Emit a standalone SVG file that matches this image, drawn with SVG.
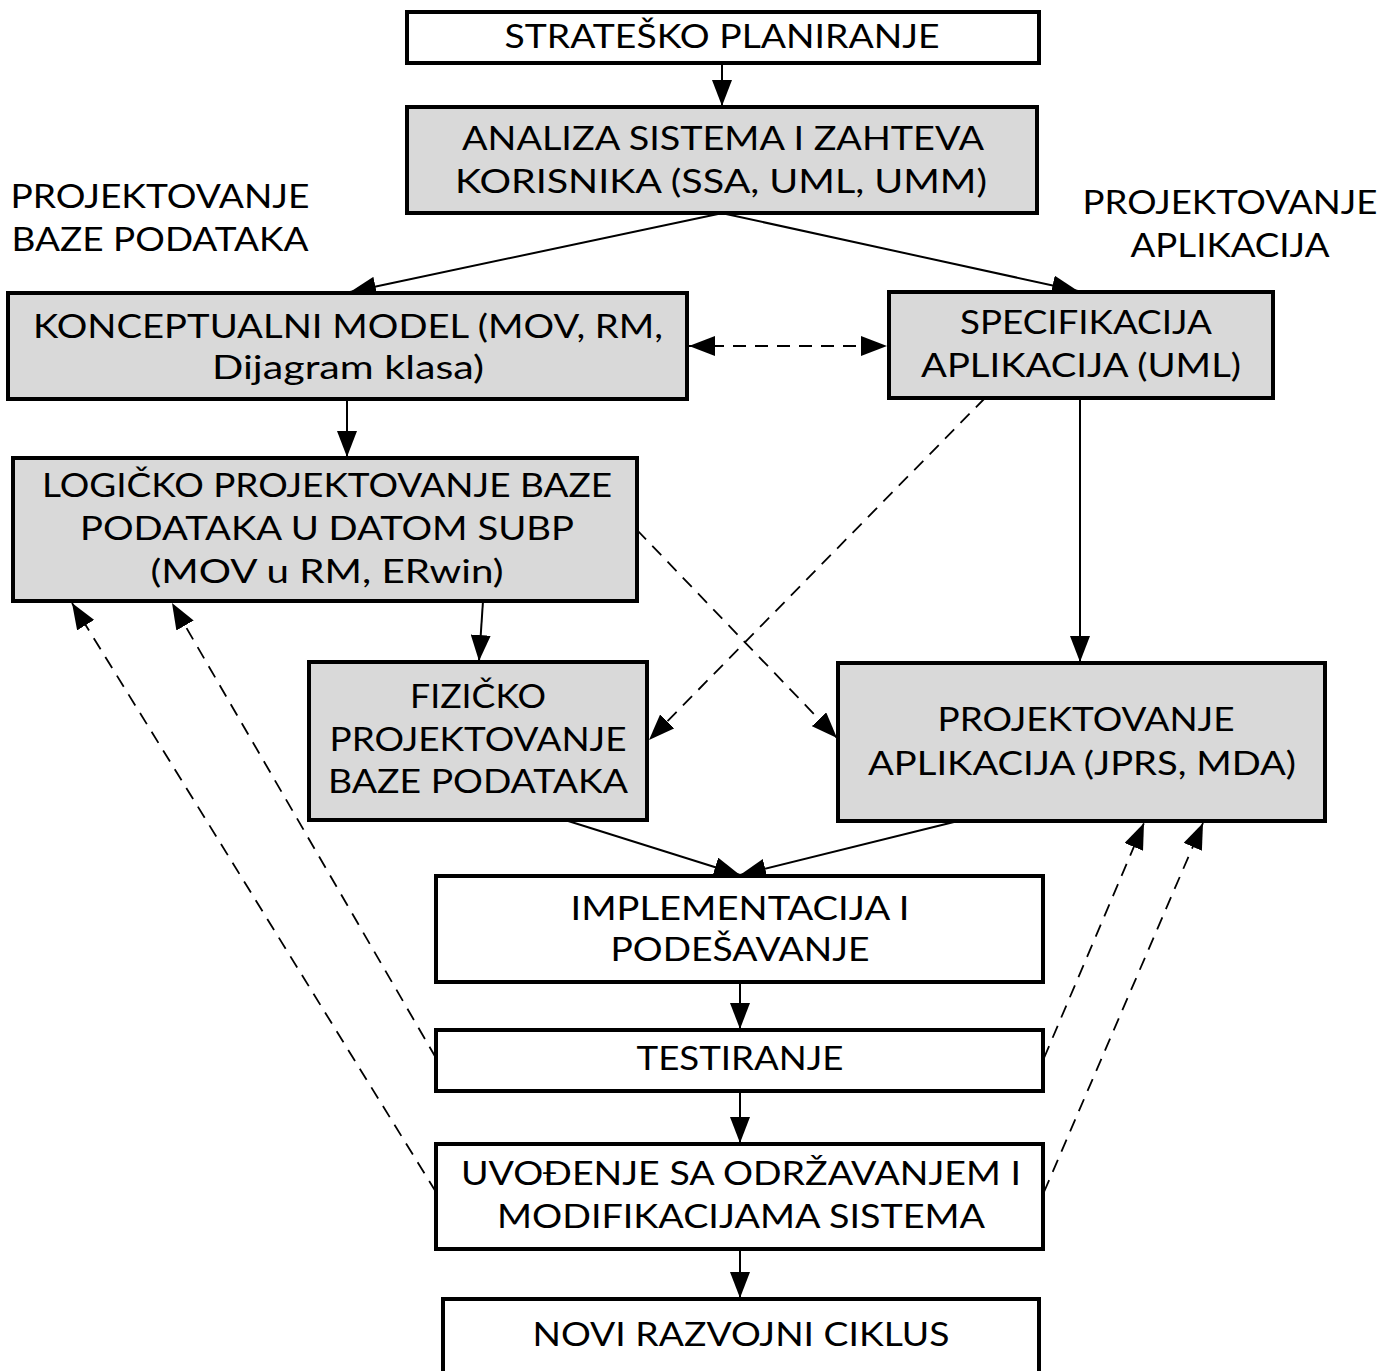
<svg xmlns="http://www.w3.org/2000/svg" width="1383" height="1371" viewBox="0 0 1383 1371">
<style>
.box{stroke:#000;stroke-width:4}
.w{fill:#fff}
.g{fill:#d9d9d9}
text{font-family:Lato,"Liberation Sans",sans-serif;font-size:32px;fill:#000;text-anchor:middle}
.c{stroke:#000;stroke-width:2;fill:none}
.d{stroke-dasharray:13 9;stroke-width:1.8}
</style>
<defs>
<marker id="ah" viewBox="0 0 26 20" refX="26" refY="10" markerWidth="26" markerHeight="20" markerUnits="userSpaceOnUse" orient="auto-start-reverse">
<path d="M0,0 L26,10 L0,20 z" fill="#000"/>
</marker>
</defs>
<rect width="1383" height="1371" fill="#fff"/>
<g id="connectors">
<line class="c" x1="722" y1="63" x2="722" y2="106" marker-end="url(#ah)"/>
<line class="c" x1="718" y1="214" x2="350" y2="292" marker-end="url(#ah)"/>
<line class="c" x1="726" y1="214" x2="1078" y2="291" marker-end="url(#ah)"/>
<line class="c d" x1="689" y1="346" x2="887" y2="346" marker-start="url(#ah)" marker-end="url(#ah)"/>
<line class="c" x1="347" y1="399" x2="347" y2="457" marker-end="url(#ah)"/>
<line class="c" x1="483" y1="601" x2="479" y2="661" marker-end="url(#ah)"/>
<line class="c" x1="1080" y1="398" x2="1080" y2="662" marker-end="url(#ah)"/>
<line class="c d" x1="985" y1="398" x2="649" y2="740" marker-end="url(#ah)"/>
<line class="c d" x1="637" y1="530" x2="837" y2="738" marker-end="url(#ah)"/>
<line class="c" x1="565" y1="820" x2="740" y2="875" marker-end="url(#ah)"/>
<line class="c" x1="958" y1="821" x2="740" y2="875" marker-end="url(#ah)"/>
<line class="c" x1="740" y1="982" x2="740" y2="1029" marker-end="url(#ah)"/>
<line class="c" x1="740" y1="1091" x2="740" y2="1143" marker-end="url(#ah)"/>
<line class="c" x1="740" y1="1249" x2="740" y2="1298" marker-end="url(#ah)"/>
<line class="c d" x1="436" y1="1058" x2="172" y2="603" marker-end="url(#ah)"/>
<line class="c d" x1="436" y1="1192" x2="72" y2="603" marker-end="url(#ah)"/>
<line class="c d" x1="1044" y1="1058" x2="1144" y2="823" marker-end="url(#ah)"/>
<line class="c d" x1="1044" y1="1192" x2="1203" y2="823" marker-end="url(#ah)"/>
</g>
<g id="lbl-baze">
<text x="160" y="208" textLength="299" lengthAdjust="spacingAndGlyphs">PROJEKTOVANJE</text>
<text x="160" y="251" textLength="297" lengthAdjust="spacingAndGlyphs">BAZE PODATAKA</text>
</g>
<g id="lbl-apl">
<text x="1230" y="214" textLength="295" lengthAdjust="spacingAndGlyphs">PROJEKTOVANJE</text>
<text x="1230" y="257" textLength="199" lengthAdjust="spacingAndGlyphs">APLIKACIJA</text>
</g>
<g id="n1">
<rect class="box w" x="407" y="12" width="632" height="51"/>
<text x="722" y="48" textLength="435" lengthAdjust="spacingAndGlyphs">STRATEŠKO PLANIRANJE</text>
</g>
<g id="n2">
<rect class="box g" x="407" y="107" width="630" height="106"/>
<text x="723" y="150" textLength="522" lengthAdjust="spacingAndGlyphs">ANALIZA SISTEMA I ZAHTEVA</text>
<text x="721" y="193" textLength="532" lengthAdjust="spacingAndGlyphs">KORISNIKA (SSA, UML, UMM)</text>
</g>
<g id="n3">
<rect class="box g" x="8" y="293" width="679" height="106"/>
<text x="348" y="338" textLength="630" lengthAdjust="spacingAndGlyphs">KONCEPTUALNI MODEL (MOV, RM,</text>
<text x="348" y="379" textLength="272" lengthAdjust="spacingAndGlyphs">Dijagram klasa)</text>
</g>
<g id="n4">
<rect class="box g" x="889" y="292" width="384" height="106"/>
<text x="1086" y="334" textLength="252" lengthAdjust="spacingAndGlyphs">SPECIFIKACIJA</text>
<text x="1081" y="377" textLength="320" lengthAdjust="spacingAndGlyphs">APLIKACIJA (UML)</text>
</g>
<g id="n5">
<rect class="box g" x="13" y="458" width="624" height="143"/>
<text x="327" y="497" textLength="570" lengthAdjust="spacingAndGlyphs">LOGIČKO PROJEKTOVANJE BAZE</text>
<text x="327" y="540" textLength="494" lengthAdjust="spacingAndGlyphs">PODATAKA U DATOM SUBP</text>
<text x="327" y="583" textLength="353" lengthAdjust="spacingAndGlyphs">(MOV u RM, ERwin)</text>
</g>
<g id="n6">
<rect class="box g" x="309" y="662" width="338" height="158"/>
<text x="478" y="708" textLength="136" lengthAdjust="spacingAndGlyphs">FIZIČKO</text>
<text x="478" y="751" textLength="297" lengthAdjust="spacingAndGlyphs">PROJEKTOVANJE</text>
<text x="478" y="793" textLength="300" lengthAdjust="spacingAndGlyphs">BAZE PODATAKA</text>
</g>
<g id="n7">
<rect class="box g" x="838" y="663" width="487" height="158"/>
<text x="1086" y="731" textLength="297" lengthAdjust="spacingAndGlyphs">PROJEKTOVANJE</text>
<text x="1082" y="775" textLength="428" lengthAdjust="spacingAndGlyphs">APLIKACIJA (JPRS, MDA)</text>
</g>
<g id="n8">
<rect class="box w" x="436" y="876" width="607" height="106"/>
<text x="740" y="920" textLength="339" lengthAdjust="spacingAndGlyphs">IMPLEMENTACIJA I</text>
<text x="740" y="961" textLength="259" lengthAdjust="spacingAndGlyphs">PODEŠAVANJE</text>
</g>
<g id="n9">
<rect class="box w" x="436" y="1030" width="607" height="61"/>
<text x="740" y="1070" textLength="207" lengthAdjust="spacingAndGlyphs">TESTIRANJE</text>
</g>
<g id="n10">
<rect class="box w" x="436" y="1144" width="607" height="105"/>
<text x="741" y="1185" textLength="560" lengthAdjust="spacingAndGlyphs">UVOĐENJE SA ODRŽAVANJEM I</text>
<text x="741" y="1228" textLength="488" lengthAdjust="spacingAndGlyphs">MODIFIKACIJAMA SISTEMA</text>
</g>
<g id="n11">
<rect class="box w" x="443" y="1299" width="596" height="80"/>
<text x="741" y="1346" textLength="417" lengthAdjust="spacingAndGlyphs">NOVI RAZVOJNI CIKLUS</text>
</g>
</svg>
